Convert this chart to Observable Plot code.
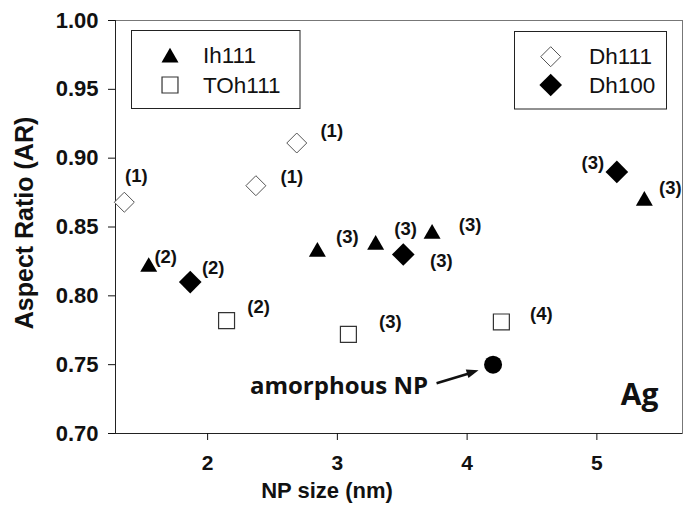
<!DOCTYPE html>
<html><head><meta charset="utf-8">
<script src="https://cdn.jsdelivr.net/npm/d3@7"></script>
<script src="https://cdn.jsdelivr.net/npm/@observablehq/plot@0.6"></script>
<style>
body{margin:0;background:#fff;}
#chart{position:relative;width:684px;height:511px;}
</style>
</head><body><div id="chart"></div>
<script>
// ---- text ----
const xTitle = "NP size (nm)";
const yTitle = "Aspect Ratio (AR)";
const elementLabel = "Ag";
const amorphousLabel = "amorphous NP";
const xTicks = [2, 3, 4, 5];
const yTicks = [0.70, 0.75, 0.80, 0.85, 0.90, 0.95, 1.00];
const xDomain = [1.29, 5.66];
const yDomain = [0.70, 1.00];

// ---- series ----
const ih111Size  = [1.546, 2.846, 3.295, 3.730, 5.366];
const ih111AR    = [0.821, 0.832, 0.837, 0.845, 0.869];
const ih111Label = ["(2)", "(3)", "(3)", "(3)", "(3)"];

const toh111Size  = [2.146, 3.085, 4.264];
const toh111AR    = [0.782, 0.772, 0.781];
const toh111Label = ["(2)", "(3)", "(4)"];

const dh111Size  = [1.358, 2.372, 2.687];
const dh111AR    = [0.868, 0.880, 0.911];
const dh111Label = ["(1)", "(1)", "(1)"];

const dh100Size  = [1.866, 3.508, 5.154];
const dh100AR    = [0.810, 0.830, 0.890];
const dh100Label = ["(2)", "(3)", "(3)"];

const amorphousSize = [4.20];
const amorphousAR   = [0.750];

const legendNames = ["Ih111", "TOh111", "Dh111", "Dh100"];

// ---- label offsets (layout, px) ----
const ih111Off  = [[17,-10],[30,-15],[30,-16],[38,-9],[26,-13]];
const toh111Off = [[32,-14],[42,-12],[40,-8]];
const dh111Off  = [[12,-26],[36,-9],[35,-12]];
const dh100Off  = [[23,-14],[38,7],[-24,-9]];

const rows = (s, a, l) => s.map((v, i) => ({size: v, ar: a[i], label: l ? l[i] : ""}));
const ih111 = rows(ih111Size, ih111AR, ih111Label);
const toh111 = rows(toh111Size, toh111AR, toh111Label);
const dh111 = rows(dh111Size, dh111AR, dh111Label);
const dh100 = rows(dh100Size, dh100AR, dh100Label);
const amorphous = rows(amorphousSize, amorphousAR);

const sym = {
  ih111: {symbol: "triangle", r: 6.3, fill: "black", stroke: "none"},
  toh111: {symbol: "square", r: 9, fill: "white", stroke: "#333", strokeWidth: 1.2},
  dh111: {symbol: "diamond2", r: 9, fill: "white", stroke: "#555", strokeWidth: 1},
  dh100: {symbol: "diamond2", r: 10.2, fill: "black", stroke: "none"}
};

const labelMarks = [];
[[ih111, ih111Off], [toh111, toh111Off], [dh111, dh111Off], [dh100, dh100Off]].forEach(([data, off]) => {
  data.forEach((d, i) => {
    labelMarks.push(Plot.text([d], {x: "size", y: "ar", text: "label", dx: off[i][0], dy: off[i][1],
      fontSize: 18.5, fontWeight: "bold", fill: "#111"}));
  });
});

const chart = Plot.plot({
  width: 684, height: 511,
  marginLeft: 115, marginRight: 2, marginTop: 20, marginBottom: 78,
  style: {fontFamily: "'Liberation Sans', Arial, sans-serif", background: "#fff", color: "#111", overflow: "visible"},
  x: {domain: xDomain},
  y: {domain: yDomain},
  marks: [
    Plot.frame({stroke: "#777"}),
    Plot.ruleY([yDomain[0]], {stroke: "#222"}),
    Plot.ruleX([xDomain[0]], {stroke: "#222"}),
    Plot.axisX({ticks: xTicks, tickSize: 7, tickPadding: 15, tickFormat: d3.format("d"), label: null,
      fontSize: 21, fontWeight: "bold"}),
    Plot.axisY({ticks: yTicks, tickSize: 7, tickPadding: 10, tickFormat: d3.format(".2f"), label: null,
      fontSize: 22, fontWeight: "bold"}),
    Plot.text([xTitle], {frameAnchor: "bottom", text: d => d, textAnchor: "middle", lineAnchor: "middle", dx: -72, dy: 57,
      fontSize: 22, fontWeight: "bold"}),
    Plot.text([yTitle], {frameAnchor: "left", text: d => d, textAnchor: "middle", lineAnchor: "middle", rotate: -90, dx: -91, dy: -4,
      fontSize: 25, fontWeight: "bold"}),
    ...labelMarks,
    Plot.dot(dh111, {x: "size", y: "ar", ...sym.dh111}),
    Plot.dot(ih111, {x: "size", y: "ar", ...sym.ih111}),
    Plot.dot(toh111, {x: "size", y: "ar", ...sym.toh111}),
    Plot.dot(dh100, {x: "size", y: "ar", ...sym.dh100}),
    Plot.dot(amorphous, {x: "size", y: "ar", symbol: "circle", r: 9, fill: "black"}),
    Plot.text(amorphous, {x: "size", y: "ar", text: () => amorphousLabel, textAnchor: "end", lineAnchor: "middle",
      dx: -65, dy: 22, fontSize: 24, fontWeight: "bold", fontFamily: "'Open Sans', sans-serif", fill: "#111"}),
    Plot.text([elementLabel], {frameAnchor: "bottom-right", text: d => d, textAnchor: "end", lineAnchor: "middle",
      dx: -24, dy: -38, fontSize: 30, fontWeight: "bold", fontFamily: "'Open Sans', sans-serif", fill: "#111"})
  ]
});
document.getElementById("chart").appendChild(chart);

// ---- arrow to amorphous NP, positioned through the plot's scales ----
const svg = d3.select(chart);
const xs = chart.scale("x"), ys = chart.scale("y");
const sx = d3.scaleLinear(xs.domain, xs.range), sy = d3.scaleLinear(ys.domain, ys.range);
amorphous.forEach(d => {
  const px = sx(d.size), py = sy(d.ar);
  const x1 = px - 56, y1 = py + 19, x2 = px - 14, y2 = py + 6;
  const ang = Math.atan2(y2 - y1, x2 - x1);
  const hl = 12, hw = 4.5;
  const bx = x2 - hl * Math.cos(ang), by = y2 - hl * Math.sin(ang);
  svg.append("line").attr("x1", x1).attr("y1", y1).attr("x2", bx + 1).attr("y2", by)
    .attr("stroke", "#111").attr("stroke-width", 2.6);
  svg.append("path").attr("d", `M${x2},${y2}L${bx - hw * Math.sin(ang)},${by + hw * Math.cos(ang)}L${bx + hw * Math.sin(ang)},${by - hw * Math.cos(ang)}Z`)
    .attr("fill", "#111");
});

// ---- legends ----
const symType = {triangle: d3.symbolTriangle, square: d3.symbolSquare, diamond2: d3.symbolDiamond2, circle: d3.symbolCircle};
function legend(box, items) {
  const g = svg.append("g");
  g.append("rect").attr("x", box[0]).attr("y", box[1]).attr("width", box[2]).attr("height", box[3])
    .attr("fill", "white").attr("stroke", "#222").attr("stroke-width", 1);
  items.forEach(it => {
    const s = it.s;
    g.append("path").attr("transform", `translate(${it.sx},${it.sy})`)
      .attr("d", d3.symbol(symType[s.symbol], Math.PI * s.r * s.r)())
      .attr("fill", s.fill).attr("stroke", s.stroke).attr("stroke-width", s.strokeWidth || 0);
    g.append("text").attr("x", it.tx).attr("y", it.ty).text(it.name)
      .attr("text-anchor", "start")
      .attr("font-family", "'Liberation Sans', Arial, sans-serif").attr("font-size", 22.5).attr("fill", "#111");
  });
}
legend([131.5, 30.5, 168.5, 78], [
  {s: sym.ih111, sx: 170, sy: 57.5, tx: 203, ty: 62.5, name: legendNames[0]},
  {s: sym.toh111, sx: 170, sy: 85, tx: 203, ty: 93, name: legendNames[1]}
]);
legend([514.5, 31.5, 152, 77.5], [
  {s: sym.dh111, sx: 550.7, sy: 56.7, tx: 589, ty: 64, name: legendNames[2]},
  {s: sym.dh100, sx: 550.7, sy: 85, tx: 589, ty: 93, name: legendNames[3]}
]);
</script>
</body></html>
